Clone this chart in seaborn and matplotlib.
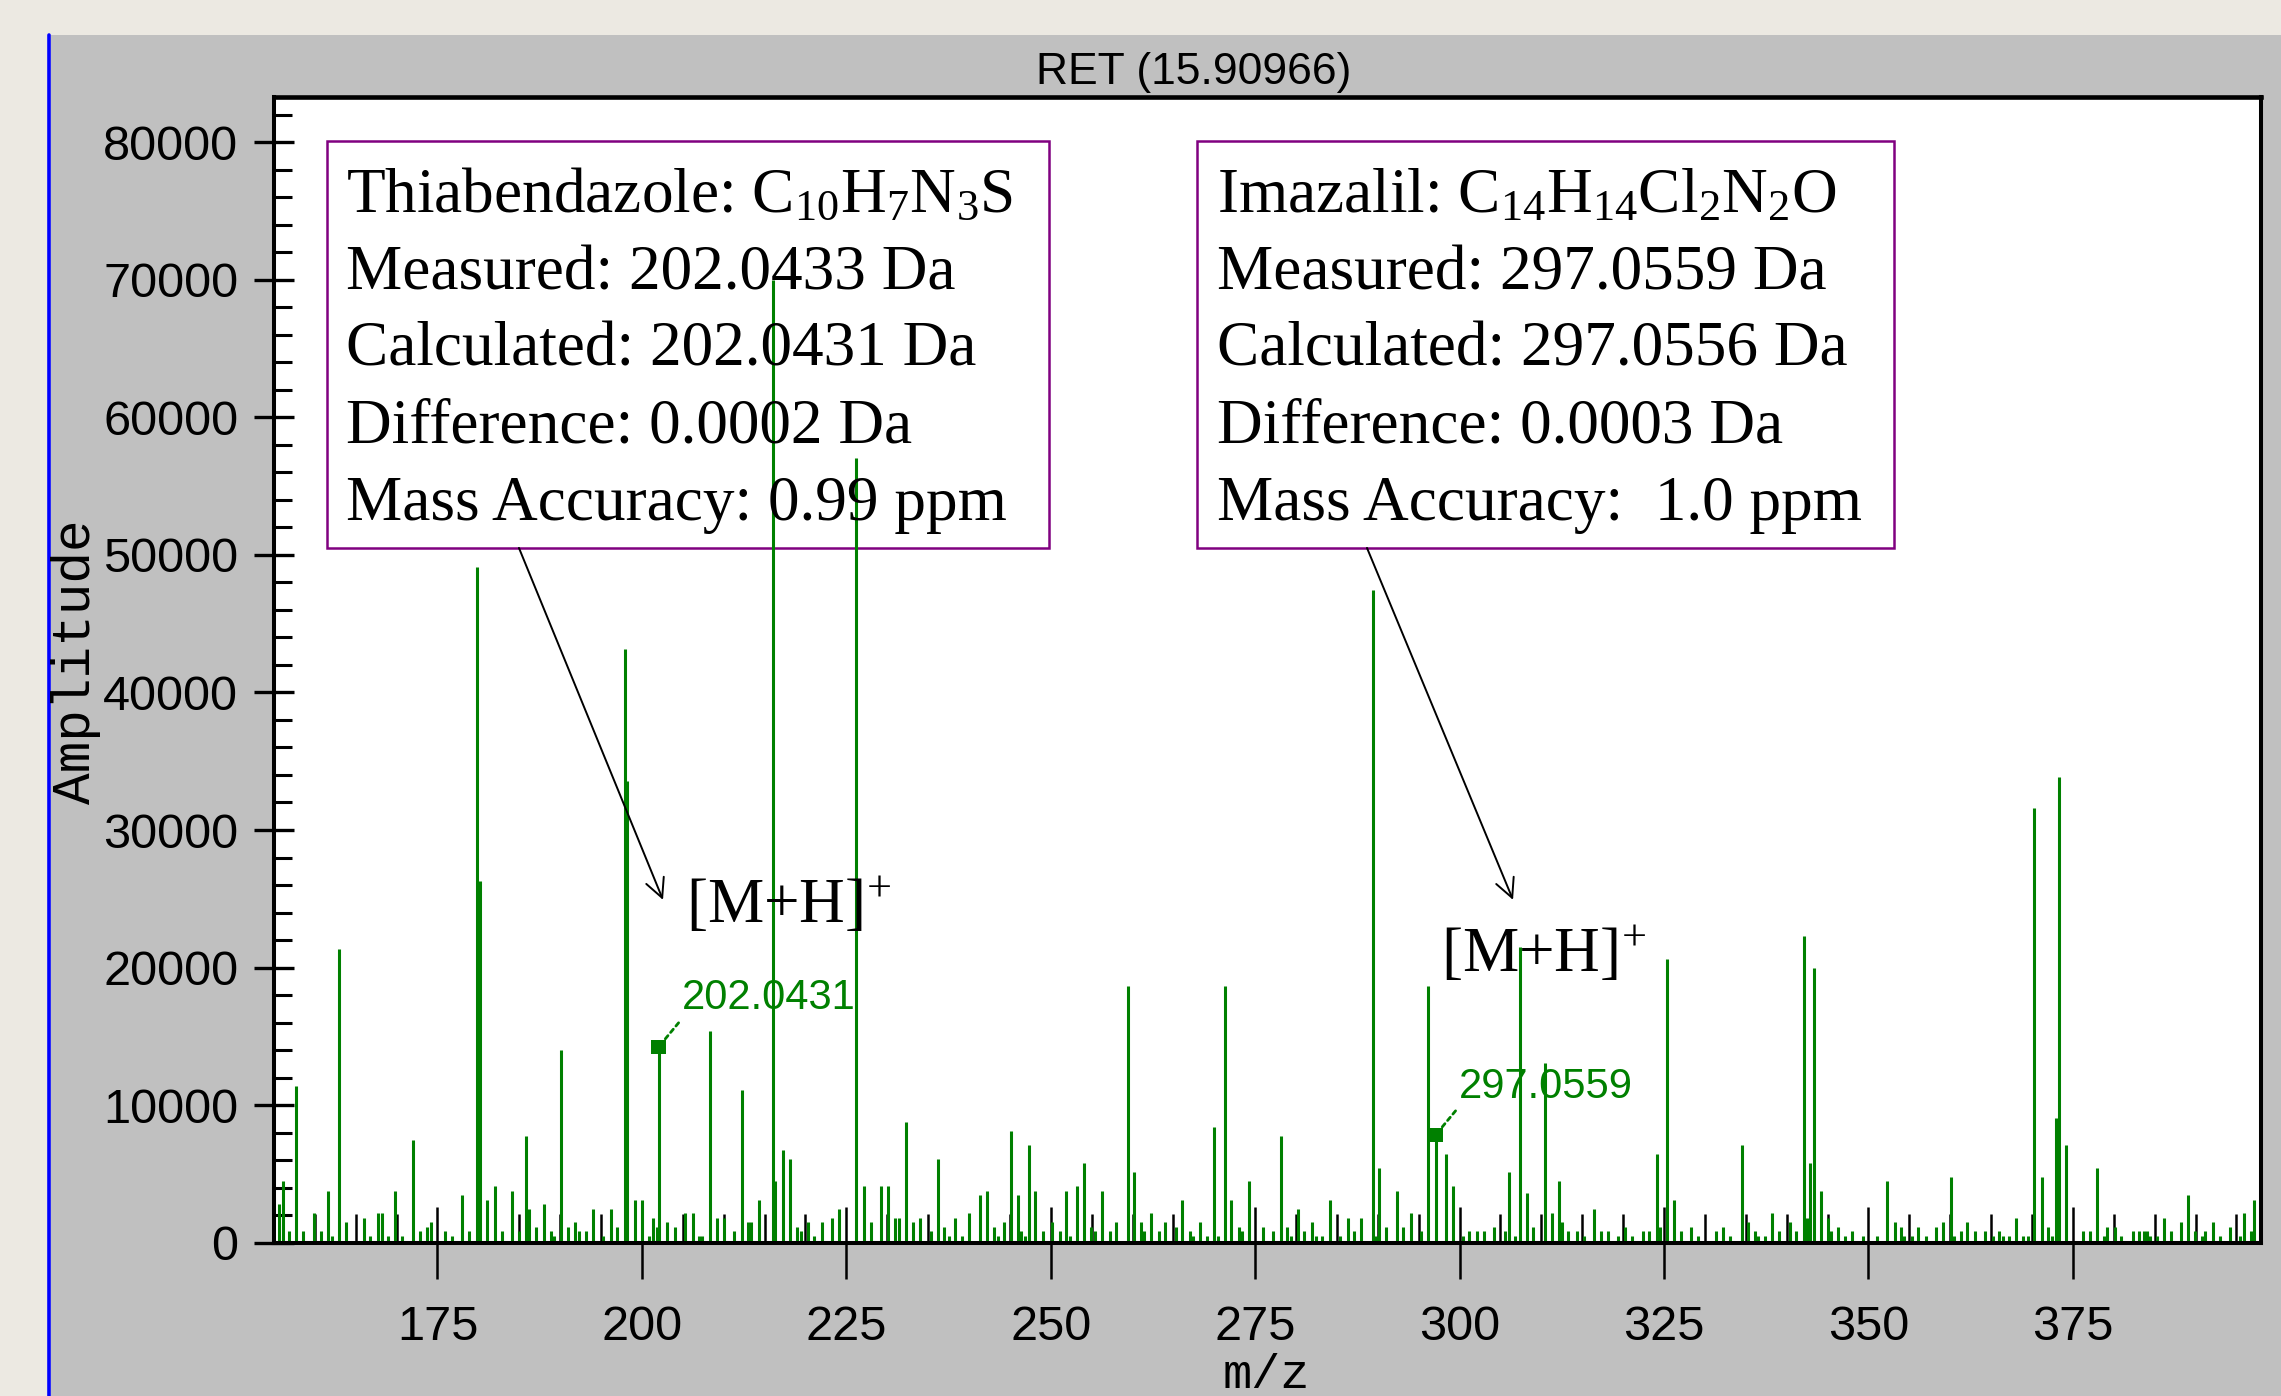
import matplotlib
matplotlib.use('Agg')
import matplotlib.pyplot as plt
import seaborn as sns
from matplotlib.patches import Rectangle
from matplotlib.lines import Line2D
from matplotlib.ticker import MultipleLocator

# ---------------- data ----------------
mz = [155.65, 156.1, 156.9, 157.7, 158.6, 159.9, 160.8, 161.6, 162.1, 162.9, 163.8, 166.0, 166.8,
      167.7, 168.2, 169.0, 169.8, 170.7, 172.0, 172.9, 173.7, 174.2, 175.9, 176.8, 178.0, 178.9,
      179.8, 180.2, 181.1, 182.0, 182.9, 184.1, 185.0, 185.8, 186.2, 187.1, 188.0, 188.9, 189.3,
      190.1, 191.0, 191.8, 192.3, 193.2, 194.0, 195.2, 196.2, 197.0, 197.9, 198.2, 199.2, 200.0,
      200.9, 201.3, 201.8, 202.04, 203.1, 204.0, 205.3, 206.2, 207.0, 207.4, 208.3, 209.2, 210.1,
      211.3, 212.2, 213.0, 213.4, 214.3, 216.0, 216.3, 217.3, 218.1, 219.0, 219.5, 220.3, 221.1,
      222.0, 223.3, 224.1, 226.2, 227.1, 228.0, 229.2, 230.1, 231.0, 231.5, 232.3, 233.2, 234.0,
      235.3, 236.2, 237.0, 237.5, 238.3, 239.2, 240.0, 241.3, 242.2, 243.1, 243.5, 244.3, 245.1,
      246.0, 246.4, 246.9, 247.3, 248.1, 249.0, 250.2, 251.1, 251.9, 252.4, 253.2, 254.1, 254.9,
      255.4, 256.3, 257.2, 258.0, 259.4, 260.2, 261.0, 261.4, 262.3, 263.2, 264.0, 265.3, 266.1,
      267.0, 267.4, 268.3, 269.1, 270.0, 270.4, 271.3, 272.1, 273.0, 273.4, 274.3, 275.9, 277.2,
      278.1, 278.9, 279.4, 280.2, 281.0, 282.0, 282.4, 283.2, 284.2, 285.4, 286.3, 287.1, 288.0,
      289.4, 289.8, 290.1, 291.0, 292.3, 293.1, 294.0, 295.3, 296.1, 297.06, 298.3, 299.2, 300.4,
      301.2, 302.1, 303.0, 304.2, 305.5, 306.0, 306.8, 307.4, 308.2, 309.0, 310.5, 311.3, 312.1,
      312.5, 313.3, 314.3, 315.2, 316.4, 317.3, 318.1, 319.4, 320.2, 321.1, 322.4, 323.2, 324.2,
      324.5, 325.4, 326.2, 327.1, 328.3, 329.2, 331.3, 332.2, 333.1, 334.5, 335.3, 336.1, 336.5,
      337.4, 338.2, 339.1, 340.4, 341.2, 342.1, 342.5, 342.9, 343.3, 344.2, 345.0, 345.4, 346.3,
      347.1, 348.0, 349.3, 351.0, 352.3, 353.2, 354.0, 354.4, 355.3, 356.1, 357.0, 358.3, 359.1,
      360.1, 360.5, 361.3, 362.1, 363.0, 364.3, 365.2, 366.0, 366.4, 367.2, 368.1, 368.9, 369.5,
      370.3, 371.2, 372.0, 372.5, 372.9, 373.3, 374.2, 376.2, 377.1, 378.0, 378.8, 379.2, 380.1,
      380.9, 382.3, 383.1, 383.7, 384.1, 384.4, 385.3, 386.1, 387.0, 388.2, 389.1, 389.9, 390.8,
      391.2, 392.1, 393.0, 394.2, 395.5, 395.9, 396.8, 397.2]
intensity = [2800, 4480, 850, 11390, 850, 2150, 850, 3760, 490, 21350, 1480, 1800, 490,
             2150, 2150, 490, 3760, 490, 7460, 850, 1160, 1480, 850, 490, 3460, 850,
             49100, 26300, 3100, 4120, 850, 3760, 850, 7750, 2430, 1160, 2810, 850, 490,
             14000, 1160, 1480, 850, 850, 2430, 490, 2430, 1160, 43150, 33550, 3100, 3100,
             490, 1800, 1160, 14230, 1480, 1160, 2150, 2150, 490, 490, 15390, 1800, 1800,
             850, 11100, 1480, 1480, 3100, 70000, 4480, 6720, 6070, 1160, 850, 1480, 490,
             1480, 1800, 2430, 57050, 4120, 1480, 4120, 4120, 1800, 1800, 8770, 1480, 1800,
             850, 6090, 1160, 490, 1800, 490, 2150, 3460, 3760, 1160, 490, 1480, 8130,
             3460, 850, 490, 7110, 3760, 850, 1480, 850, 3760, 490, 4120, 5800, 1160,
             850, 3760, 850, 1480, 18650, 5150, 1480, 850, 2150, 850, 1480, 1160, 3100,
             850, 490, 1480, 490, 8420, 490, 18650, 3100, 1160, 850, 4480, 1160, 850,
             7760, 1160, 490, 2430, 850, 1480, 490, 490, 3100, 490, 1800, 850, 1800,
             47450, 490, 5430, 1160, 3750, 1160, 2150, 850, 18650, 7830, 6430, 4120, 490,
             850, 850, 850, 1160, 850, 5150, 490, 21500, 3600, 1160, 13050, 2150, 4480,
             1480, 850, 850, 490, 2430, 850, 850, 490, 1160, 490, 850, 850, 6430,
             1160, 20600, 3100, 850, 1160, 490, 850, 1160, 490, 7100, 1480, 850, 490,
             490, 2150, 850, 1480, 850, 22300, 1800, 5800, 20000, 3750, 1800, 850, 1160,
             490, 850, 490, 490, 4480, 1480, 1160, 490, 490, 1160, 490, 1160, 1480,
             4770, 490, 850, 1480, 850, 850, 490, 850, 490, 490, 1800, 490, 490,
             31600, 4770, 1160, 490, 9070, 33850, 7110, 850, 850, 5430, 490, 1160, 1160,
             490, 850, 850, 850, 850, 490, 490, 1800, 850, 1480, 3450, 850, 490,
             850, 1480, 490, 1160, 490, 2150, 850, 3100]

label_mz = [202.04, 297.06]
label_int = [14230, 7830]
label_text = ['202.0431', '297.0559']

x_ticks = [175, 200, 225, 250, 275, 300, 325, 350, 375]
y_ticks = [0, 10000, 20000, 30000, 40000, 50000, 60000, 70000, 80000]

title_text = 'RET (15.90966)'
x_label = 'm/z'
y_label = 'Amplitude'

box1_lines = ['Thiabendazole: C$_{10}$H$_{7}$N$_{3}$S',
              'Measured: 202.0433 Da',
              'Calculated: 202.0431 Da',
              'Difference: 0.0002 Da',
              'Mass Accuracy: 0.99 ppm']
box2_lines = ['Imazalil: C$_{14}$H$_{14}$Cl$_{2}$N$_{2}$O',
              'Measured: 297.0559 Da',
              'Calculated: 297.0556 Da',
              'Difference: 0.0003 Da',
              'Mass Accuracy:  1.0 ppm']
ion_label = '[M+H]$^{+}$'

# ---------------- style ----------------
sns.set_style('white')
SANS = ['Liberation Sans', 'DejaVu Sans']
MONO = ['Liberation Mono', 'DejaVu Sans Mono']
SERIF = ['Liberation Serif', 'DejaVu Serif']
plt.rcParams['font.family'] = SANS
plt.rcParams['mathtext.fontset'] = 'custom'
plt.rcParams['mathtext.rm'] = 'Liberation Serif'
plt.rcParams['mathtext.it'] = 'Liberation Serif:italic'
plt.rcParams['mathtext.bf'] = 'Liberation Serif:bold'
plt.rcParams['mathtext.default'] = 'rm'

GREEN = '#008000'
PURPLE = '#800080'

fig = plt.figure(figsize=(22.81, 13.96), dpi=100, facecolor='#ECE9E2')

# gray panel and blue edge (behind the axes)
fig.patches.append(Rectangle((0.0224, 0.0), 1.0, 0.9749, transform=fig.transFigure,
                             facecolor='#C0C0C0', edgecolor='none', zorder=-3))
fig.lines.append(Line2D([0.0215, 0.0215], [0.0, 0.9749], transform=fig.transFigure,
                        color='#0000FF', lw=2.6, zorder=-2))

ax = fig.add_axes([0.1201, 0.1098, 0.9912 - 0.1201, 0.9307 - 0.1098])
ax.set_zorder(1)
ax.set_facecolor('white')

# peaks
ax.vlines(mz, 0, intensity, color=GREEN, lw=2.2, zorder=3)
sns.scatterplot(x=label_mz, y=label_int, ax=ax, marker='s', s=110, color=GREEN,
                edgecolor='none', zorder=4, legend=False)
for xv, yv, t in zip(label_mz, label_int, label_text):
    ax.annotate(t, xy=(xv, yv), xytext=(17, 27), textcoords='offset points',
                ha='left', va='baseline', color=GREEN, fontsize=30, fontfamily=SANS,
                arrowprops=dict(arrowstyle='-', color=GREEN, lw=2.0, linestyle=(0, (1.5, 1.5)),
                                shrinkA=1, shrinkB=4, relpos=(0, 0)), zorder=5)

ax.set_xlim(155, 398)
ax.set_ylim(0, 83300)

ax.set_xticks(x_ticks)
ax.set_xticklabels([str(v) for v in x_ticks])
ax.set_yticks(y_ticks)
ax.set_yticklabels([str(v) for v in y_ticks])
ax.xaxis.set_minor_locator(MultipleLocator(5))
ax.yaxis.set_minor_locator(MultipleLocator(2000))

ax.tick_params(bottom=True, left=True, top=False, right=False, which='both', colors='black')
ax.tick_params(axis='x', which='major', direction='inout', length=52, width=1.8, pad=19,
               labelsize=35, labelcolor='black')
ax.tick_params(axis='x', which='minor', direction='in', length=21, width=1.8)
ax.tick_params(axis='y', which='major', direction='inout', length=29.5, width=2.4, pad=11,
               labelsize=35, labelcolor='black')
ax.tick_params(axis='y', which='minor', direction='in', length=13, width=2.2)
for lab in ax.get_xticklabels() + ax.get_yticklabels():
    lab.set_fontfamily(SANS)

for name, sp in ax.spines.items():
    sp.set_visible(True)
    sp.set_color('black')
    sp.set_linewidth(2.9)
    sp.set_zorder(6)
ax.spines['top'].set_linewidth(3.3)

ax.set_ylabel(y_label, fontfamily=MONO, fontsize=38, color='black')
ax.yaxis.set_label_coords(-0.087, 0.507)
ax.set_xlabel(x_label, fontfamily=MONO, fontsize=35, color='black')
ax.xaxis.set_label_coords(0.4992, -0.096)

fig.text(0.5235, 0.9398, title_text, ha='center', va='baseline', fontsize=32,
         fontfamily=SANS, color='black')

# annotation boxes
box_specs = [(0.0267, 0.3633, 0.0362, box1_lines), (0.4645, 0.3508, 0.4746, box2_lines)]
baselines = [0.8994, 0.8322, 0.7651, 0.6979, 0.6307]
for x0, w, tx, lines in box_specs:
    ax.add_patch(Rectangle((x0, 0.6062), w, 0.3551, transform=ax.transAxes, fill=False,
                           edgecolor=PURPLE, lw=1.8, zorder=2))
    for yb, line in zip(baselines, lines):
        ax.text(tx, yb, line, transform=ax.transAxes, fontsize=45.5, fontfamily=SERIF,
                ha='left', va='baseline', color='black', zorder=5)

# arrows and ion labels
arrow_specs = [((0.1233, 0.6063), (0.1958, 0.2992), (0.2074, 0.2791)),
               ((0.5501, 0.6063), (0.6236, 0.2992), (0.5873, 0.2364))]
for start, tip, lab in arrow_specs:
    ax.annotate('', xy=tip, xytext=start, xycoords='axes fraction', textcoords='axes fraction',
                arrowprops=dict(arrowstyle='->', color='black', lw=1.4, mutation_scale=34,
                                shrinkA=0, shrinkB=0), zorder=5)
    ax.text(lab[0], lab[1], ion_label, transform=ax.transAxes, fontsize=45.5, fontfamily=SERIF,
            ha='left', va='baseline', color='black', zorder=5)

fig.savefig('out.png', dpi=100, facecolor=fig.get_facecolor())
